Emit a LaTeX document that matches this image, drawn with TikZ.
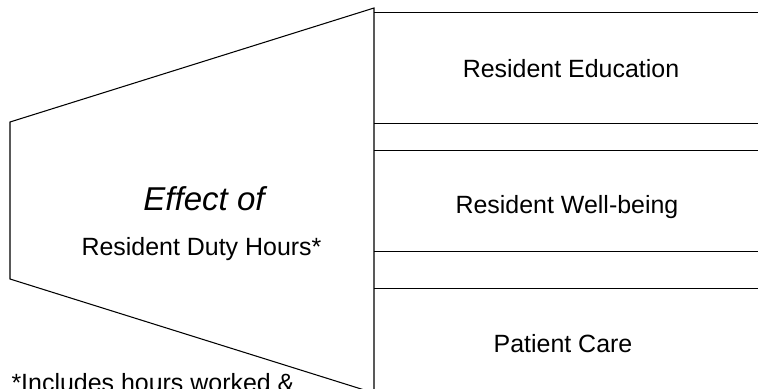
\documentclass[tikz,border=0pt]{standalone}
\usepackage{fontspec}
\setmainfont{Liberation Sans}
\begin{document}
\begin{tikzpicture}[x=0.02cm, y=-0.02cm, line width=0.6pt,
    lbl/.style={font=\fontsize{14.2}{16}\selectfont, inner sep=0pt, anchor=base}]
        \useasboundingbox (0, 0) rectangle (758, 389);
        \pgfmathsetmacro{\r}{374};
        % funnel on the left
        \draw (10, 122) -- (\r, 8) -- (\r, 393) -- (10, 279) -- cycle;
        % bands on the right
        \foreach \y in {12.3, 123.3, 150.3, 251.7, 288.3}
            \draw (\r, \y) -- (770, \y);
        \node [lbl, font=\fontsize{18.8}{22}\selectfont\itshape] (effect) at (204, 210) {Effect of};
        \node [lbl] (duty) at (201.5, 255) {Resident Duty Hours*};
        \node [lbl] (edu) at (571, 77) {Resident Education};
        \node [lbl] (well) at (567, 213) {Resident Well-being};
        \node [lbl] (care) at (563, 352) {Patient Care};
        \node [lbl, anchor=base west] (note) at (11, 391) {*Includes hours worked \&};
\end{tikzpicture}
\end{document}
